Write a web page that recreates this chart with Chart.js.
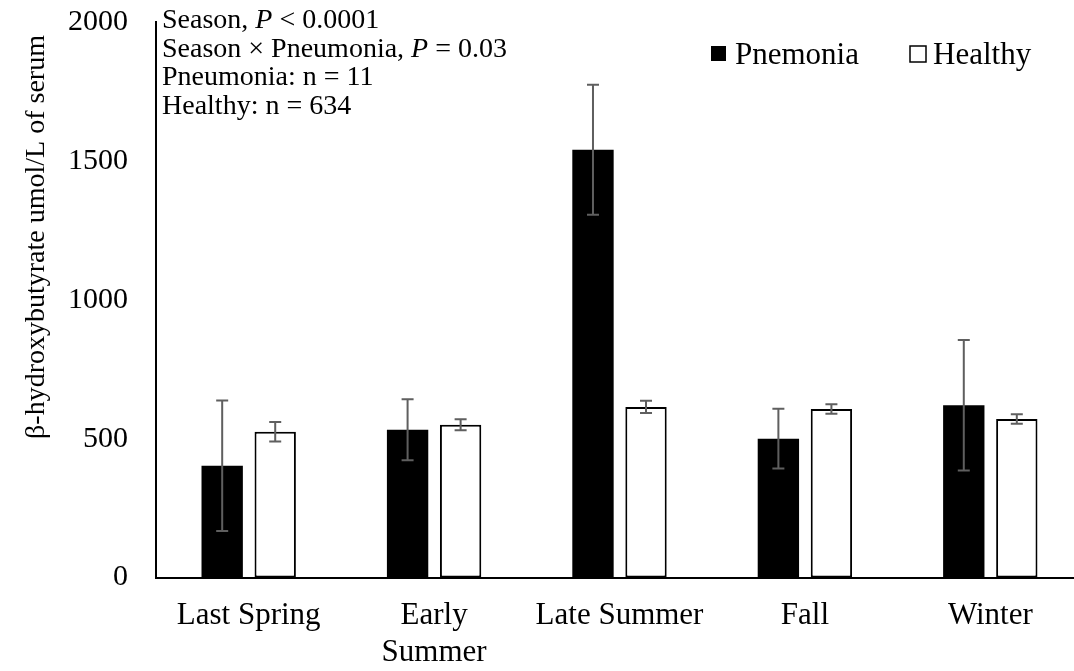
<!DOCTYPE html>
<html>
<head>
<meta charset="utf-8">
<script src="https://cdn.jsdelivr.net/npm/chart.js@4/dist/chart.umd.min.js"></script>
<style>
  html, body { margin: 0; padding: 0; background: #fff; overflow: hidden; }
  #wrap { position: relative; width: 1090px; height: 671px; }
</style>
</head>
<body>
<div id="wrap"><canvas id="chart"></canvas></div>
<script>
// Seasons (x categories)
const seasons = ['Last Spring', ['Early', 'Summer'], 'Late Summer', 'Fall', 'Winter'];

// Mean serum BHB (umol/L) and standard errors per group
const pneumoniaMeans = [402, 532, 1540, 500, 620];
const pneumoniaSE    = [235, 110, 234, 108, 235];
const healthyMeans   = [525, 550, 614, 607, 571];
const healthySE      = [35, 20, 22, 17, 17];

// Y axis ticks
const yTicks = [0, 500, 1000, 1500, 2000];

const axisTitle = 'β-hydroxybutyrate umol/L of serum';
const legendNames = ['Pnemonia', 'Healthy'];

const SERIF = '"Liberation Serif", "Times New Roman", serif';

// Draws mean ± SE whiskers on top of every bar
const errorBars = {
  id: 'errorBars',
  afterDatasetsDraw(chart) {
    const ctx = chart.ctx;
    const y = chart.scales.y;
    const errs = [pneumoniaSE, healthySE];
    ctx.save();
    ctx.strokeStyle = '#5f5f5f';
    ctx.lineWidth = 2;
    chart.data.datasets.forEach((ds, di) => {
      chart.getDatasetMeta(di).data.forEach((bar, i) => {
        const v = ds.data[i], e = errs[di][i];
        const x = bar.x;
        const yTop = y.getPixelForValue(v + e);
        const yBot = y.getPixelForValue(v - e);
        ctx.beginPath();
        ctx.moveTo(x, yTop); ctx.lineTo(x, yBot);
        ctx.moveTo(x - 6, yTop); ctx.lineTo(x + 6, yTop);
        ctx.moveTo(x - 6, yBot); ctx.lineTo(x + 6, yBot);
        ctx.stroke();
      });
    });
    ctx.restore();
  }
};

// Axis title, statistics note and legend
const decorations = {
  id: 'decorations',
  afterDraw(chart) {
    const ctx = chart.ctx;
    ctx.save();
    ctx.fillStyle = '#000';

    // rotated y-axis title
    ctx.save();
    ctx.translate(37, 237);
    ctx.rotate(-Math.PI / 2);
    ctx.font = '28px ' + SERIF;
    ctx.textAlign = 'center';
    ctx.textBaseline = 'middle';
    ctx.fillText(axisTitle, 0, 0);
    ctx.restore();

    // statistics note
    const x0 = 162;
    const lines = [
      [['Season, ', false], ['P', true], [' < 0.0001', false]],
      [['Season × Pneumonia, ', false], ['P', true], [' = 0.03', false]],
      [['Pneumonia: n = 11', false]],
      [['Healthy: n = 634', false]]
    ];
    ctx.textBaseline = 'alphabetic';
    ctx.textAlign = 'left';
    lines.forEach((parts, li) => {
      let x = x0;
      const yb = 28 + li * 28.7;
      parts.forEach(([t, italic]) => {
        ctx.font = (italic ? 'italic ' : '') + '28px ' + SERIF;
        ctx.fillText(t, x, yb);
        x += ctx.measureText(t).width;
      });
    });

    // legend
    ctx.font = '31px ' + SERIF;
    ctx.fillRect(711, 46, 15, 15);
    ctx.fillText(legendNames[0], 735, 64);
    ctx.strokeStyle = '#000';
    ctx.lineWidth = 1.5;
    ctx.strokeRect(910, 46, 16, 16);
    ctx.fillText(legendNames[1], 933, 64);
    ctx.restore();
  }
};

new Chart(document.getElementById('chart'), {
  type: 'bar',
  data: {
    labels: seasons,
    datasets: [
      {
        label: legendNames[0],
        data: pneumoniaMeans,
        backgroundColor: '#000',
        borderColor: '#000',
        borderWidth: 0,
        categoryPercentage: 0.572,
        barPercentage: 0.78
      },
      {
        label: legendNames[1],
        data: healthyMeans,
        backgroundColor: '#fff',
        borderColor: '#000',
        borderWidth: 2,
        borderSkipped: false,
        categoryPercentage: 0.572,
        barPercentage: 0.78
      }
    ]
  },
  options: {
    responsive: true,
    maintainAspectRatio: false,
    animation: false,
    devicePixelRatio: 1,
    layout: { padding: { top: 22, right: 7, left: 0, bottom: 0 } },
    plugins: {
      legend: { display: false },
      tooltip: { enabled: false },
      title: { display: false }
    },
    scales: {
      x: {
        grid: { display: false, drawTicks: false },
        border: { display: true, color: '#000', width: 2 },
        ticks: {
          color: '#000',
          font: { family: SERIF, size: 31 },
          padding: 20,
          maxRotation: 0,
          autoSkip: false
        },
        afterFit(scale) {
          scale.height = 93.5;
          scale.paddingLeft = 0;
          scale.paddingRight = 0;
        }
      },
      y: {
        min: 0,
        max: 2000,
        afterBuildTicks(scale) { scale.ticks = yTicks.map(v => ({ value: v })); },
        grid: { display: false, drawTicks: false },
        border: { display: true, color: '#000', width: 2 },
        ticks: {
          color: '#000',
          font: { family: SERIF, size: 30 },
          padding: 28,
          callback: v => String(v)
        },
        afterFit(scale) {
          scale.width = 156;
          scale.paddingTop = 0;
          scale.paddingBottom = 0;
        }
      }
    }
  },
  plugins: [errorBars, decorations]
});
</script>
</body>
</html>
